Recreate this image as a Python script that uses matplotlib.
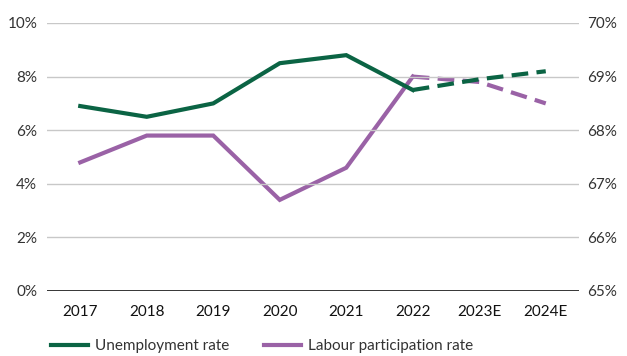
import matplotlib.pyplot as plt
import numpy as np

plt.rcParams['font.family'] = ['Lato', 'DejaVu Sans']

years = ["2017", "2018", "2019", "2020", "2021", "2022", "2023E", "2024E"]
unemployment = [6.9, 6.5, 7.0, 8.5, 8.8, 7.5, 7.9, 8.2]
participation = [67.4, 67.9, 67.9, 66.7, 67.3, 69.0, 68.9, 68.5]
n_actual = 6  # 2017-2022 actual, rest estimates

green = "#0b6444"
purple = "#9a62a6"
grid_col = "#c8c8c8"
text_col = "#333333"

fig = plt.figure(figsize=(6.27, 3.56), dpi=100)
ax = fig.add_axes([47 / 627, 1 - 291 / 356, 532 / 627, 268 / 356])
ax2 = ax.twinx()

x = np.arange(len(years))

ax.set_ylim(0, 10)
ax2.set_ylim(65, 70)
ax.set_xlim(-0.5, len(years) - 0.5)

ax.set_yticks(np.arange(0, 11, 2))
ax.set_yticklabels([f"{v}%" for v in range(0, 11, 2)])
ax2.set_yticks(np.arange(65, 71, 1))
ax2.set_yticklabels([f"{v}%" for v in range(65, 71)])

for v in range(2, 11, 2):
    ax.axhline(v, color=grid_col, lw=1, zorder=0)
ax.axhline(0, color="#222222", lw=2, zorder=1)

dash = (0, (4, 2))
ax2.plot(x[:n_actual], participation[:n_actual], color=purple, lw=3, solid_joinstyle="miter", zorder=3)
ax2.plot(x[n_actual - 1:], participation[n_actual - 1:], color=purple, lw=3, ls=dash, zorder=3)
ax.plot(x[:n_actual], unemployment[:n_actual], color=green, lw=3, solid_joinstyle="miter", zorder=4)
ax.plot(x[n_actual - 1:], unemployment[n_actual - 1:], color=green, lw=3, ls=dash, zorder=4)
ax.set_zorder(ax2.get_zorder() + 1)
ax.patch.set_visible(False)

ax.set_xticks(x)
ax.set_xticklabels(years)

for a in (ax, ax2):
    for s in a.spines.values():
        s.set_visible(False)
    a.tick_params(length=0, labelsize=11, colors=text_col)
ax.tick_params(axis="x", pad=10, colors="#111111")
ax.tick_params(axis="y", pad=7)
ax2.tick_params(axis="y", pad=6)

h1, = ax.plot([], [], color=green, lw=3)
h2, = ax.plot([], [], color=purple, lw=3)
fig.legend([h1, h2], ["Unemployment rate", "Labour participation rate"],
           loc="lower left", bbox_to_anchor=(0.06, -0.03), ncol=2, frameon=False,
           fontsize=11, handlelength=2.4, handletextpad=0.45, columnspacing=2.3,
           labelcolor=text_col)

fig.savefig("out.png", dpi=100)
